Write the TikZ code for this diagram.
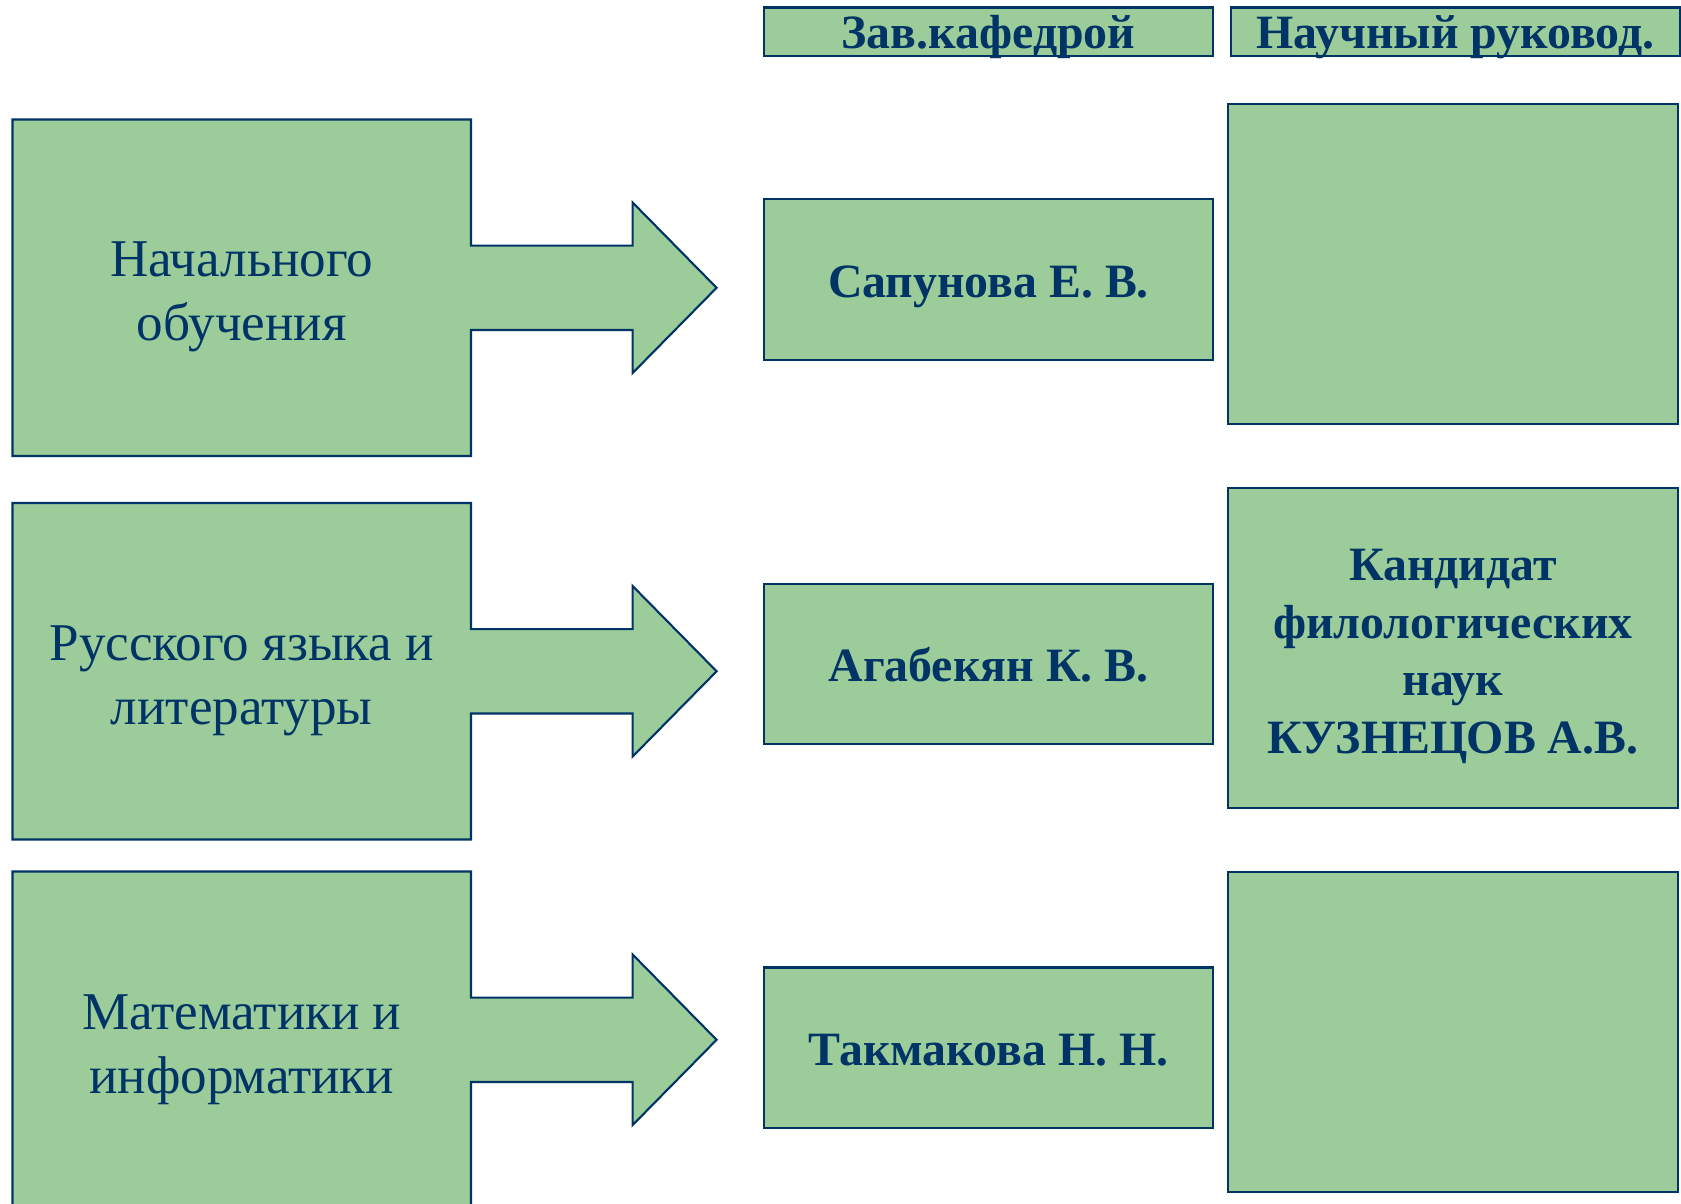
\documentclass[tikz,border=0pt]{standalone}
\usepackage{fontspec}
\setmainfont{Liberation Serif}
\usepackage{xcolor}
\usetikzlibrary{positioning}
\definecolor{boxgreen}{HTML}{9BCC99}
\definecolor{boxblue}{HTML}{003366}

\begin{document}
\begin{tikzpicture}[x=0.01cm, y=-0.01cm, box/.style={draw=boxblue, fill=boxgreen, line width=0.6pt, text=boxblue, inner sep=0pt, align=center}]
        \tikzstyle{head} = [box, minimum width=4.49cm, minimum height=0.485cm, text height=9.8pt, text depth=0pt, font=\fontsize{13.6}{16}\selectfont\bfseries]
        \tikzstyle{chief} = [box, minimum width=4.49cm, minimum height=1.605cm, text height=10.2pt, text depth=0pt, font=\fontsize{13.6}{16.4}\selectfont\bfseries]
        \tikzstyle{tutor} = [box, minimum width=4.49cm, minimum height=3.2cm]
        \tikzstyle{tutortext} = [align=center, text=boxblue, font=\fontsize{13.6}{16.4}\selectfont\bfseries]
        \tikzstyle{dept} = [align=center, text=boxblue, font=\fontsize{15.1}{18.2}\selectfont]
        \useasboundingbox (0,0) rectangle (1681,1204);

        % column headers
        \node[head] (hz) at (988.5,31.75) {Зав.кафедрой};
        \node[head, right = 0.155cm of hz] (hn) {Научный руковод.};

        % departments with arrows
        \foreach \t/\n/\txt in {119.5/1/{Начального\\обучения}, 503/2/{Русского языка и\\литературы}, 871.5/3/{Математики и\\информатики}} {
            \draw[box] (12.5,\t) -- (471,\t) -- (471,{\t+126.1}) -- (632.6,{\t+126.1}) -- (632.6,{\t+83}) -- (716.6,{\t+168.3}) -- (632.6,{\t+253.6}) -- (632.6,{\t+210.5}) -- (471,{\t+210.5}) -- (471,{\t+336.5}) -- (12.5,{\t+336.5}) -- cycle;
            \node[dept, yshift=-0.095cm] (d\n) at (241.75,{\t+168.3}) {\txt};
        }

        % heads of department
        \node[chief] (m1) at (988.5,279.75) {Сапунова Е. В.};
        \node[chief] (m2) at (988.5,664) {Агабекян К. В.};
        \node[chief] (m3) at (988.5,1047.75) {Такмакова Н. Н.};

        % supervisors
        \node[tutor] (r1) at (1453,263.85) {};
        \node[tutor] (r2) at (1453,648) {};
        \node[tutor] (r3) at (1453,1031.75) {};
        \node[tutortext, yshift=-0.086cm] (k) at (r2.center) {Кандидат\\филологических\\наук\\КУЗНЕЦОВ А.В.};
\end{tikzpicture}
\end{document}
